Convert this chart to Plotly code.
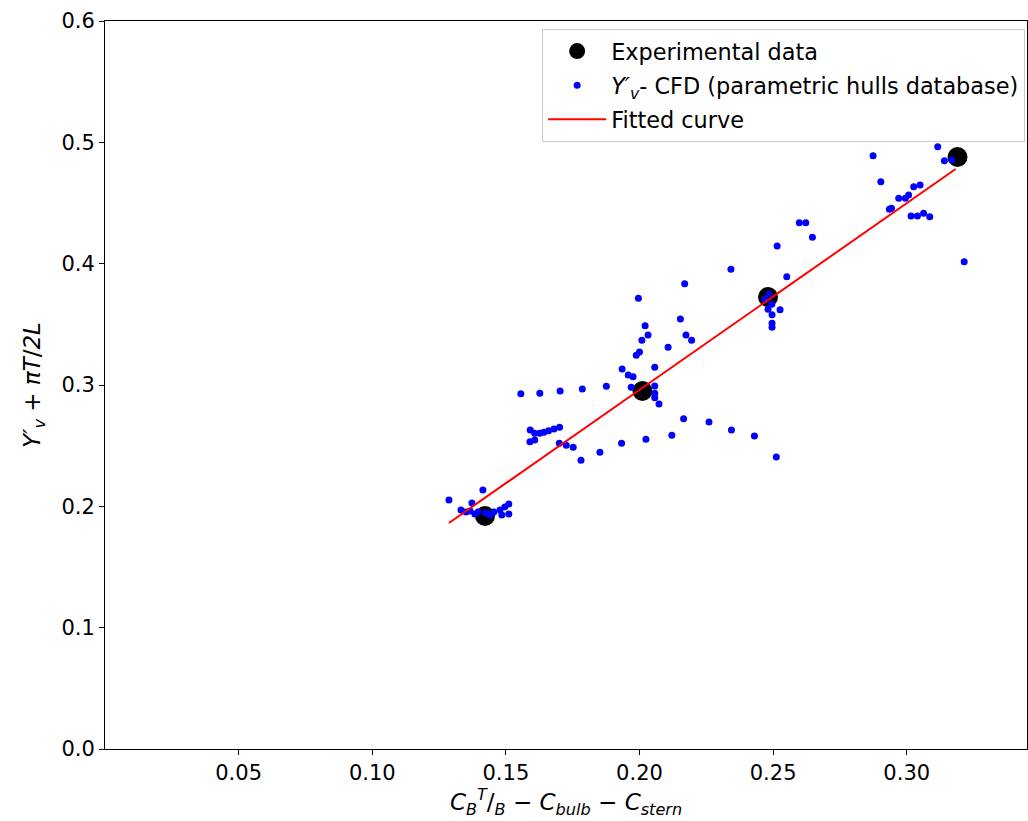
import plotly.graph_objects as go

# Experimental data
exp_x = [0.1422, 0.2011, 0.2481, 0.3190]
exp_y = [0.1920, 0.2951, 0.3725, 0.4879]

# CFD (parametric hulls database)
cfd_x = [
    0.1287, 0.1332, 0.1373, 0.1414, 0.1351, 0.1366, 0.1384, 0.1396, 0.1425, 0.1440,
    0.1455, 0.1478, 0.1496, 0.1511, 0.1485, 0.1511,
    0.1556, 0.1627, 0.1703, 0.1786, 0.1876,
    0.1969, 0.2057, 0.2057, 0.2057, 0.2073,
    0.1591, 0.1608, 0.1627, 0.1642, 0.1660, 0.1680, 0.1701, 0.1590, 0.1608, 0.1700,
    0.1726, 0.1752,
    0.1781, 0.1852, 0.1933, 0.2024, 0.2121, 0.2165, 0.2260, 0.2344, 0.2430, 0.2512,
    0.2169, 0.1996, 0.2153, 0.2021, 0.2032, 0.2009, 0.2174, 0.2195, 0.2107, 0.2000,
    0.1988, 0.1935, 0.1958, 0.1976, 0.2057,
    0.2598, 0.2622, 0.2647, 0.2515, 0.2342, 0.2551, 0.2485, 0.2469, 0.2495, 0.2481,
    0.2526, 0.2496, 0.2496, 0.2496,
    0.2874, 0.2903, 0.3116, 0.3141, 0.3169, 0.3026, 0.3050, 0.2970, 0.2995, 0.3007,
    0.2935, 0.2943, 0.3016, 0.3040, 0.3063, 0.3086, 0.3215,
]
cfd_y = [
    0.2052, 0.1970, 0.2027, 0.2135, 0.1953, 0.1962, 0.1937, 0.1953, 0.1945, 0.1929,
    0.1953, 0.1970, 0.1995, 0.2019, 0.1929, 0.1937,
    0.2928, 0.2932, 0.2951, 0.2967, 0.2989,
    0.2981, 0.2992, 0.2932, 0.2895, 0.2843,
    0.2629, 0.2602, 0.2602, 0.2610, 0.2623, 0.2637, 0.2651, 0.2533, 0.2547, 0.2520,
    0.2503, 0.2487,
    0.2379, 0.2445, 0.2520, 0.2552, 0.2585, 0.2722, 0.2695, 0.2629, 0.2580, 0.2407,
    0.3835, 0.3715, 0.3544, 0.3489, 0.3412, 0.3368, 0.3412, 0.3368, 0.3311, 0.3272,
    0.3245, 0.3132, 0.3082, 0.3068, 0.3146,
    0.4338, 0.4338, 0.4217, 0.4146, 0.3954, 0.3893, 0.3750, 0.3706, 0.3665, 0.3624,
    0.3621, 0.3579, 0.3508, 0.3476,
    0.4890, 0.4676, 0.4964, 0.4849, 0.4854, 0.4634, 0.4648, 0.4539, 0.4539, 0.4566,
    0.4448, 0.4456, 0.4393, 0.4393, 0.4415, 0.4387, 0.4016,
]

# Fitted curve (end points)
fit_x = [0.1287, 0.3183]
fit_y = [0.1863, 0.4780]

x_ticks = [0.05, 0.10, 0.15, 0.20, 0.25, 0.30]
y_ticks = [0.0, 0.1, 0.2, 0.3, 0.4, 0.5, 0.6]

FONT = "DejaVu Sans"

fig = go.Figure()
fig.add_trace(go.Scatter(
    x=exp_x, y=exp_y, mode="markers", name="Experimental data",
    legendgroup="g1",
    marker=dict(color="black", size=20, line=dict(width=0)),
))
fig.add_trace(go.Scatter(
    x=cfd_x, y=cfd_y, mode="markers",
    name="<i>Y′<sub>v</sub></i>- CFD (parametric hulls database)",
    legendgroup="g2",
    marker=dict(color="blue", size=7, line=dict(width=0)),
))
fig.add_trace(go.Scatter(
    x=fit_x, y=fit_y, mode="lines", name="Fitted curve",
    legendgroup="g3",
    line=dict(color="red", width=2),
))

fig.update_layout(
    width=1028, height=821,
    margin=dict(l=105, r=1, t=21, b=72),
    plot_bgcolor="white", paper_bgcolor="white",
    font=dict(family=FONT, size=21, color="black"),
    showlegend=True,
    legend=dict(
        x=0.998, y=0.989, xanchor="right", yanchor="top",
        bgcolor="rgba(255,255,255,0.8)", bordercolor="#cccccc", borderwidth=1,
        font=dict(family=FONT, size=22.4), itemsizing="trace",
        itemwidth=58, tracegroupgap=2,
    ),
    xaxis=dict(
        range=[0.0, 0.345], tickvals=x_ticks, tickformat=".2f",
        showgrid=False, zeroline=False, showline=True, linecolor="black",
        linewidth=1, mirror=True, ticks="outside", ticklen=5, tickwidth=1,
        tickcolor="black",
        title=dict(
            text="<i>C<sub>B</sub></i><sup><i>T</i></sup>/<sub><i>B</i></sub> − <i>C<sub>bulb</sub></i> − <i>C<sub>stern</sub></i>",
            font=dict(family=FONT, size=23), standoff=6,
        ),
    ),
    yaxis=dict(
        range=[0.0, 0.6], tickvals=y_ticks, tickformat=".1f",
        showgrid=False, zeroline=False, showline=True, linecolor="black",
        linewidth=1, mirror=True, ticks="outside", ticklen=5, tickwidth=1,
        tickcolor="black",
        title=dict(
            text="<i>Y′<sub>v</sub></i> + <i>πT</i>/<i>2L</i>",
            font=dict(family=FONT, size=23), standoff=14,
        ),
    ),
)

fig.write_html("out.html")
